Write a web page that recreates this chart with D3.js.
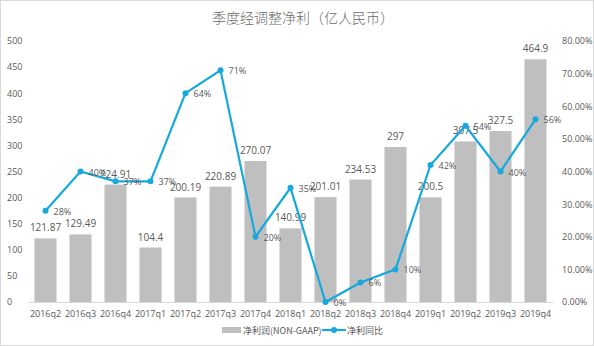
<!DOCTYPE html>
<html><head><meta charset="utf-8">
<script src="https://cdn.jsdelivr.net/npm/d3@7"></script>
<style>body{margin:0;background:#fff;font-family:"Noto Sans CJK SC","Open Sans",sans-serif;}</style>
</head><body>
<svg id="c" width="594" height="346"></svg>
<script>
const categories = ["2016q2","2016q3","2016q4","2017q1","2017q2","2017q3","2017q4","2018q1","2018q2","2018q3","2018q4","2019q1","2019q2","2019q3","2019q4"];
const profit = [121.87,129.49,224.91,104.4,200.19,220.89,270.07,140.99,201.01,234.53,297,200.5,307.5,327.5,464.9];
const growth = [28,40,37,37,64,71,20,35,0,6,10,42,54,40,56];
const leftTicks = [0,50,100,150,200,250,300,350,400,450,500];
const rightTicks = [0,10,20,30,40,50,60,70,80];
const title = "季度经调整净利（亿人民币）";
const legendNames = ["净利润(NON-GAAP)","净利同比"];

const svg = d3.select("#c");
const W=594,H=346;
svg.append("rect").attr("x",0.5).attr("y",0.5).attr("width",W-1).attr("height",H-1).attr("fill","#fff").attr("stroke","#d9d9d9");
const pTop=41, pBottom=302, pLeft=28, pRight=553;
const x = d3.scaleBand().domain(categories).range([pLeft,pRight]).paddingInner(0.37).paddingOuter(0.185);
const y = d3.scaleLinear().domain([0,500]).range([pBottom,pTop]);
const y2 = d3.scaleLinear().domain([0,80]).range([pBottom,pTop]);
const txt="#595959", font="Open Sans, Noto Sans CJK SC, sans-serif";

svg.append("text").attr("x",303).attr("y",23).attr("text-anchor","middle").attr("font-size",14).attr("fill","#6a6a6a").attr("font-weight",300).attr("font-family","Noto Sans CJK SC").text(title);

// axes
const gl = svg.append("g").attr("transform",`translate(${pLeft},0)`).call(d3.axisLeft(y).tickValues(leftTicks).tickSize(0).tickPadding(8));
gl.select(".domain").remove();
gl.selectAll("text").attr("font-size",9).attr("fill",txt).attr("font-family",font).attr("text-anchor","start").attr("x",-21);
const gr = svg.append("g").attr("transform",`translate(${pRight},0)`).call(d3.axisRight(y2).tickValues(rightTicks).tickSize(0).tickPadding(9).tickFormat(d=>d.toFixed(2)+"%"));
gr.select(".domain").remove();
gr.selectAll("text").attr("font-size",9).attr("fill",txt).attr("font-family",font);
const gx = svg.append("g").attr("transform",`translate(0,${pBottom})`).call(d3.axisBottom(x).tickSize(0).tickPadding(9));
gx.select(".domain").attr("stroke","#d9d9d9");
gx.selectAll("text").attr("font-size",9).attr("fill",txt).attr("font-family",font);

// bars
svg.append("g").selectAll("rect").data(profit).join("rect")
  .attr("x",(d,i)=>x(categories[i])).attr("width",x.bandwidth())
  .attr("y",d=>y(d)).attr("height",d=>pBottom-y(d)).attr("fill","#bfbfbf");
svg.append("g").selectAll("text").data(profit).join("text")
  .attr("x",(d,i)=>x(categories[i])+x.bandwidth()/2).attr("y",d=>y(d)-7)
  .attr("text-anchor","middle").attr("font-size",10).attr("fill",txt).attr("font-family",font).text(d=>d);

// line
const cx = i=>x(categories[i])+x.bandwidth()/2;
svg.append("path").datum(growth).attr("fill","none").attr("stroke","#17a8dd").attr("stroke-width",2.2)
  .attr("d",d3.line().x((d,i)=>cx(i)).y(d=>y2(d)));
svg.append("g").selectAll("circle").data(growth).join("circle")
  .attr("cx",(d,i)=>cx(i)).attr("cy",d=>y2(d)).attr("r",3).attr("fill","#17a8dd");
svg.append("g").selectAll("text").data(growth).join("text")
  .attr("x",(d,i)=>cx(i)+8).attr("y",d=>y2(d)+4)
  .attr("font-size",9).attr("fill",txt).attr("font-family",font).text(d=>d+"%");

// legend
const lg = svg.append("g");
lg.append("rect").attr("x",222).attr("y",327).attr("width",19).attr("height",6).attr("fill","#bfbfbf");
lg.append("text").attr("x",243).attr("y",334).attr("font-size",9).attr("fill",txt).attr("font-family","Noto Sans CJK SC").text(legendNames[0]);
lg.append("line").attr("x1",322).attr("x2",346).attr("y1",330).attr("y2",330).attr("stroke","#17a8dd").attr("stroke-width",2.2);
lg.append("circle").attr("cx",334).attr("cy",330).attr("r",3).attr("fill","#17a8dd");
lg.append("text").attr("x",347).attr("y",334).attr("font-size",9).attr("fill",txt).attr("font-family","Noto Sans CJK SC").text(legendNames[1]);
</script>
</body></html>
